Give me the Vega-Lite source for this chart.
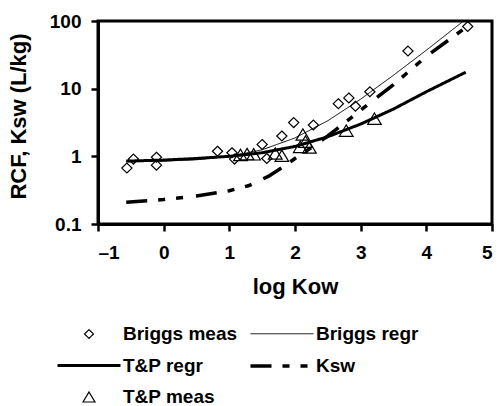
{
  "$schema": "https://vega.github.io/schema/vega-lite/v6.json",
  "width": 394,
  "height": 203,
  "autosize": {"type": "none"},
  "padding": {"left": 98, "top": 21, "right": 7, "bottom": 182},
  "background": "white",
  "config": {
    "font": "Liberation Sans",
    "view": {"stroke": "black", "strokeWidth": 3},
    "axis": {
      "grid": false,
      "domainColor": "black",
      "domainWidth": 3,
      "tickColor": "black",
      "tickWidth": 2.5,
      "tickSize": 7,
      "labelFont": "Liberation Sans",
      "labelFontWeight": "bold",
      "labelFontSize": 19,
      "labelColor": "black",
      "titleFont": "Liberation Sans",
      "titleFontWeight": "bold",
      "titleFontSize": 22,
      "titleColor": "black"
    },
    "legend": {
      "labelFont": "Liberation Sans",
      "labelFontWeight": "bold",
      "labelFontSize": 19,
      "labelColor": "black",
      "title": null,
      "orient": "none",
      "legendX": -43,
      "legendY": 302,
      "columns": 2,
      "columnPadding": 5,
      "rowPadding": 10,
      "symbolSize": 400,
      "symbolOffset": 22,
      "labelOffset": 22,
      "labelLimit": 300,
      "symbolFillColor": "transparent",
      "symbolStrokeColor": "black"
    }
  },
  "data": {
    "values": [
      {"series": "Briggs meas", "x": -0.56, "y": 0.67},
      {"series": "Briggs meas", "x": -0.46, "y": 0.91},
      {"series": "Briggs meas", "x": -0.11, "y": 0.97},
      {"series": "Briggs meas", "x": -0.11, "y": 0.74},
      {"series": "Briggs meas", "x": 0.82, "y": 1.19},
      {"series": "Briggs meas", "x": 1.04, "y": 1.13},
      {"series": "Briggs meas", "x": 1.08, "y": 0.91},
      {"series": "Briggs meas", "x": 1.5, "y": 1.5},
      {"series": "Briggs meas", "x": 1.57, "y": 0.93},
      {"series": "Briggs meas", "x": 1.8, "y": 2.0},
      {"series": "Briggs meas", "x": 1.98, "y": 3.15},
      {"series": "Briggs meas", "x": 2.28, "y": 2.9},
      {"series": "Briggs meas", "x": 2.66, "y": 6.0},
      {"series": "Briggs meas", "x": 2.82, "y": 7.3},
      {"series": "Briggs meas", "x": 2.92, "y": 5.5},
      {"series": "Briggs meas", "x": 3.14, "y": 9.0},
      {"series": "Briggs meas", "x": 3.72, "y": 36},
      {"series": "Briggs meas", "x": 4.63, "y": 83},
      {"series": "T&P meas", "x": 1.17, "y": 1.05},
      {"series": "T&P meas", "x": 1.27, "y": 1.08},
      {"series": "T&P meas", "x": 1.37, "y": 1.07},
      {"series": "T&P meas", "x": 1.7, "y": 1.1},
      {"series": "T&P meas", "x": 1.8, "y": 1.02},
      {"series": "T&P meas", "x": 2.08, "y": 1.38},
      {"series": "T&P meas", "x": 2.12, "y": 2.1},
      {"series": "T&P meas", "x": 2.16, "y": 1.65},
      {"series": "T&P meas", "x": 2.22, "y": 1.35},
      {"series": "T&P meas", "x": 2.78, "y": 2.4},
      {"series": "T&P meas", "x": 3.21, "y": 3.6},
      {"series": "Briggs regr", "x": -0.57, "y": 0.83},
      {"series": "Briggs regr", "x": 0, "y": 0.85},
      {"series": "Briggs regr", "x": 0.5, "y": 0.89},
      {"series": "Briggs regr", "x": 1, "y": 1.0},
      {"series": "Briggs regr", "x": 1.5, "y": 1.25},
      {"series": "Briggs regr", "x": 2, "y": 1.87},
      {"series": "Briggs regr", "x": 2.5, "y": 3.36},
      {"series": "Briggs regr", "x": 3, "y": 7.0},
      {"series": "Briggs regr", "x": 3.5, "y": 15.8},
      {"series": "Briggs regr", "x": 4, "y": 37},
      {"series": "Briggs regr", "x": 4.6, "y": 106},
      {"series": "T&P regr", "x": -0.57, "y": 0.85},
      {"series": "T&P regr", "x": 0, "y": 0.88},
      {"series": "T&P regr", "x": 0.5, "y": 0.93},
      {"series": "T&P regr", "x": 1, "y": 1.0},
      {"series": "T&P regr", "x": 1.5, "y": 1.13},
      {"series": "T&P regr", "x": 2, "y": 1.4},
      {"series": "T&P regr", "x": 2.5, "y": 1.95},
      {"series": "T&P regr", "x": 3, "y": 3.0},
      {"series": "T&P regr", "x": 3.5, "y": 5.0},
      {"series": "T&P regr", "x": 4, "y": 9.0},
      {"series": "T&P regr", "x": 4.6, "y": 17.5},
      {"series": "Ksw", "x": -0.57, "y": 0.21},
      {"series": "Ksw", "x": 0, "y": 0.23},
      {"series": "Ksw", "x": 0.5, "y": 0.26},
      {"series": "Ksw", "x": 1, "y": 0.31},
      {"series": "Ksw", "x": 1.3, "y": 0.37},
      {"series": "Ksw", "x": 1.6, "y": 0.51},
      {"series": "Ksw", "x": 1.8, "y": 0.68},
      {"series": "Ksw", "x": 2.0, "y": 0.93},
      {"series": "Ksw", "x": 2.25, "y": 1.35},
      {"series": "Ksw", "x": 2.5, "y": 2.0},
      {"series": "Ksw", "x": 2.75, "y": 3.1},
      {"series": "Ksw", "x": 3.0, "y": 4.8},
      {"series": "Ksw", "x": 3.5, "y": 11.5},
      {"series": "Ksw", "x": 4.0, "y": 30},
      {"series": "Ksw", "x": 4.6, "y": 80}
    ]
  },
  "encoding": {
    "x": {
      "field": "x", "type": "quantitative",
      "scale": {"domain": [-1, 5], "nice": false, "zero": false},
      "axis": {"values": [-1, 0, 1, 2, 3, 4, 5], "title": "log Kow", "labelPadding": 12, "titlePadding": 14,
               "labelExpr": "replace(datum.label, '−', '–')"}
    },
    "y": {
      "field": "y", "type": "quantitative",
      "scale": {"type": "log", "domain": [0.1, 100], "nice": false},
      "axis": {"values": [0.1, 1, 10, 100], "format": "~g", "title": "RCF, Ksw (L/kg)", "labelPadding": 10, "titlePadding": 19, "titleY": 95}
    }
  },
  "layer": [
    {
      "transform": [{"filter": "datum.series == 'Briggs regr' || datum.series == 'T&P regr' || datum.series == 'Ksw'"}],
      "mark": {"type": "line", "color": "black", "clip": true},
      "encoding": {
        "strokeDash": {
          "field": "series", "type": "nominal",
          "scale": {
            "domain": ["Briggs meas", "T&P regr", "T&P meas", "Briggs regr", "Ksw"],
            "range": [[1, 0], [1, 0], [1, 0], [1, 0], [21, 11, 7, 11, 7, 13]]
          }
        },
        "strokeWidth": {
          "field": "series", "type": "nominal",
          "scale": {
            "type": "ordinal",
            "domain": ["Briggs meas", "T&P regr", "T&P meas", "Briggs regr", "Ksw"],
            "range": [1.2, 3, 1.2, 1, 3.5]
          }
        }
      }
    },
    {
      "transform": [{"filter": "datum.series == 'Briggs meas' || datum.series == 'T&P meas'"}],
      "mark": {"type": "point", "filled": false, "color": "black", "size": 515, "strokeWidth": 1.2, "opacity": 1},
      "encoding": {
        "shape": {
          "field": "series", "type": "nominal",
          "scale": {
            "domain": ["Briggs meas", "T&P regr", "T&P meas", "Briggs regr", "Ksw"],
            "range": [
              "M0,-0.435L0.45,0L0,0.435L-0.45,0Z",
              "M-3.15,0H3.15",
              "M0,-0.5L0.6,0.5L-0.6,0.5Z",
              "M-3.15,0H3.15",
              "M-3.15,0H3.15"
            ]
          }
        }
      }
    }
  ]
}
